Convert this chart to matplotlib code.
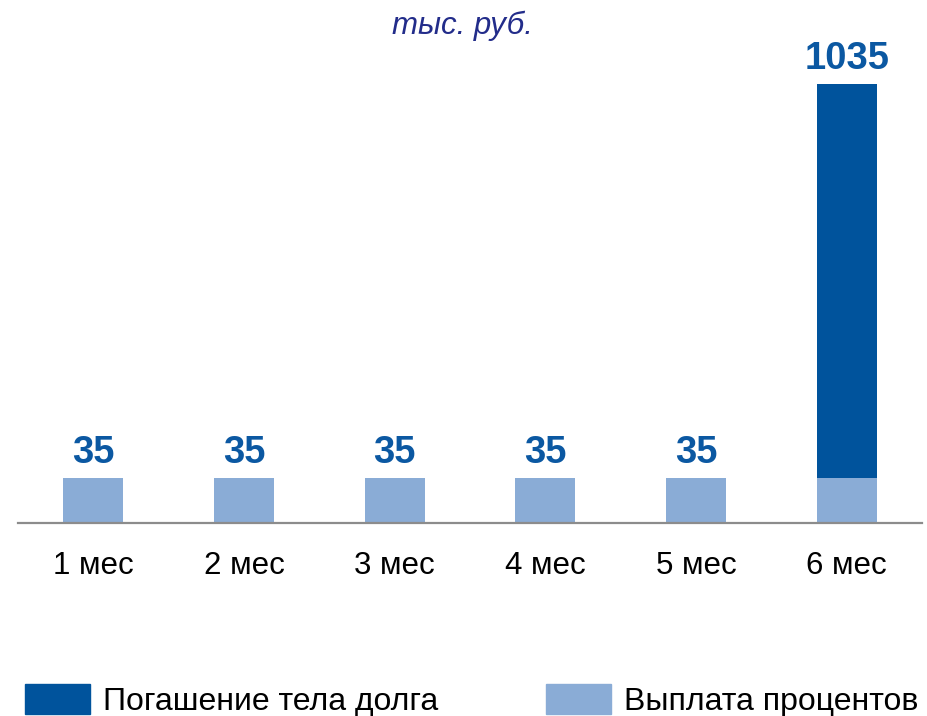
import numpy as np
import matplotlib.pyplot as plt
from matplotlib.patches import Patch

plt.rcParams['font.family'] = ['Liberation Sans', 'DejaVu Sans']

months = ["1 мес", "2 мес", "3 мес", "4 мес", "5 мес", "6 мес"]
interest = [35, 35, 35, 35, 35, 35]
principal = [0, 0, 0, 0, 0, 1000]
labels = ["35", "35", "35", "35", "35", "1035"]

dark_color = "#00539C"
light_color = "#8AACD6"
label_color = "#0B58A2"
title_color = "#222C8A"

# the picture squeezes the principal part, so use a piecewise linear scale
BREAK = 35
K = 0.3065


def fwd(y):
    y = np.asarray(y, dtype=float)
    return np.where(y <= BREAK, y, BREAK + (y - BREAK) * K)


def inv(v):
    v = np.asarray(v, dtype=float)
    return np.where(v <= BREAK, v, BREAK + (v - BREAK) / K)


fig = plt.figure(figsize=(9.28, 7.16), dpi=100)
W, H = 928, 716
ax = fig.add_axes([18 / W, (H - 523) / H, 904 / W, (523 - 84) / H])
ax.set_yscale('function', functions=(fwd, inv))

x = np.arange(len(months))
ax.bar(x, interest, width=0.4, color=light_color, label="Выплата процентов")
ax.bar(x, principal, width=0.4, bottom=interest, color=dark_color, label="Погашение тела долга")

totals = np.array(interest) + np.array(principal)
for xi, t, lab in zip(x, totals, labels):
    ax.annotate(lab, (xi, t), xytext=(0, 11), textcoords="offset points",
                ha="center", va="baseline", fontsize=27.5, fontweight="bold",
                color=label_color, annotation_clip=False)

ax.set_xlim(-0.5, len(months) - 0.5)
ax.set_ylim(0, 1035)
ax.set_xticks(x)
ax.set_xticklabels(months, fontsize=22.5)
ax.tick_params(axis='x', length=0, pad=20)
ax.set_yticks([])
ax.yaxis.set_minor_locator(plt.NullLocator())
for side in ["top", "right", "left"]:
    ax.spines[side].set_visible(False)
ax.spines["bottom"].set_color("#8C8C8C")
ax.spines["bottom"].set_linewidth(1.6)

fig.text(462 / W, 1 - 26 / H, "тыс. руб.", ha="center", va="center",
         fontsize=22.5, style="italic", color=title_color)

handles = [Patch(color=dark_color), Patch(color=light_color)]
fig.legend(handles, ["Погашение тела долга", "Выплата процентов"],
           loc="lower left", bbox_to_anchor=(25 / W, -1 / H), ncol=2,
           frameon=False, fontsize=23, handlelength=2.03, handleheight=1.06,
           handletextpad=0.4, columnspacing=3.4, borderpad=0, borderaxespad=0)

fig.savefig("out.png", dpi=100)
